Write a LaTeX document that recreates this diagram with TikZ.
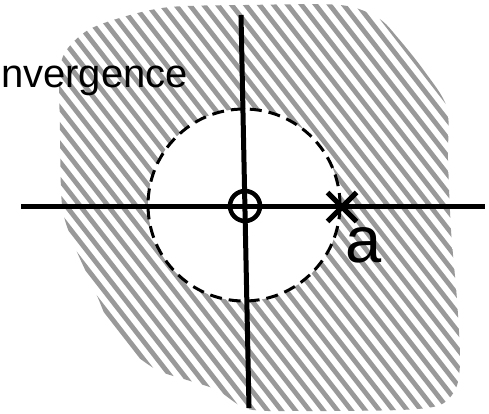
\documentclass[tikz,border=0pt]{standalone}
\usepackage{fontspec}
\setmainfont{Liberation Sans}
\usetikzlibrary{shapes.misc}
\begin{document}
\begin{tikzpicture}[x=1pt,y=-1pt,
  axis/.style={line width=5pt},
  roc/.style={draw, circle, fill=white, line width=3pt, dash pattern=on 12pt off 7pt, inner sep=0pt},
  stripe/.style={line width=4.8pt, color=black!40},
]
\useasboundingbox (0,0) rectangle (489,414);
\begin{scope}
\clip plot[smooth cycle, tension=0.5] coordinates {
 (60,130) (61,62) (85,32) (123,17) (170,7) (245,5) (340,5) (378,18) (398,38)
 (425,72) (447,108) (448,160) (451,230) (457,300) (460,360) (456,388)
 (440,405) (400,410) (300,411) (248,409) (217,390) (187,380) (157,370)
 (127,348) (110,326) (98,298) (87,274) (72,240) (62,205)};
\foreach \i in {-26,...,36} \draw[stripe] (\i*14,-5) -- ++(330,424);
\end{scope}
\node[roc, minimum size=192pt] (roc) at (244,205) {};
\coordinate (xl) at (21,206);
\coordinate (xr) at (485,206);
\coordinate (yt) at (241,15);
\coordinate (yb) at (249,408);
\draw[axis] (xl) -- (xr);
\draw[axis] (yt) -- (yb);
\node[draw, circle, line width=4.5pt, minimum size=30pt, inner sep=0pt] (zero) at (245,206) {};
\node[draw, cross out, line width=5pt, minimum size=24pt, inner sep=0pt] (pole) at (342,207) {};
\node[font=\fontsize{65}{65}\selectfont, anchor=base west, inner sep=0pt] (alabel) at (345,262) {a};
\node[font=\fontsize{40}{40}\selectfont, anchor=base east, inner sep=0pt] (title) at (188,88) {nvergence};
\end{tikzpicture}
\end{document}
